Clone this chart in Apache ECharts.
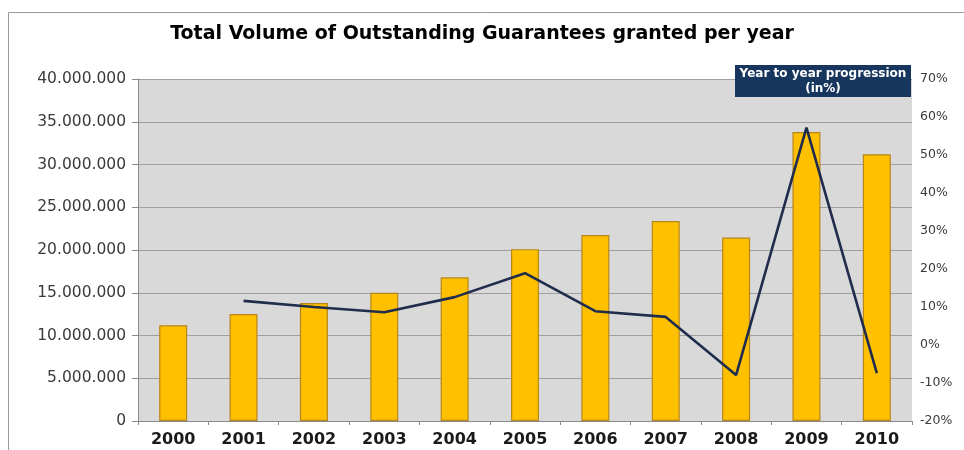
<!DOCTYPE html>
<html>
<head>
<meta charset="utf-8">
<script src="https://cdn.jsdelivr.net/npm/echarts@6/dist/echarts.min.js"></script>
<style>html,body{margin:0;padding:0;background:#fff;}#c{width:964px;height:450px;}</style>
</head>
<body>
<div id="c"></div>
<script>
var titleText = 'Total Volume of Outstanding Guarantees granted per year';
var boxText = 'Year to year progression\n(in%)';
var categories = ['2000','2001','2002','2003','2004','2005','2006','2007','2008','2009','2010'];
var volumes = [11200000, 12500000, 13800000, 15000000, 16800000, 20100000, 21750000, 23400000, 21450000, 33800000, 31200000];
var progression = [null, 11.6, 10.0, 8.6, 12.6, 18.9, 8.9, 7.4, -7.9, 57.2, -7.4];

function fmtDots(v){
  return String(v).replace(/\B(?=(\d{3})+(?!\d))/g, '.');
}

var chart = echarts.init(document.getElementById('c'), null, {renderer:'canvas'});
chart.setOption({
  animation: false,
  backgroundColor: '#fff',
  title: {
    text: titleText,
    left: 'center',
    top: 20,
    textStyle: {fontFamily: 'DejaVu Sans', fontWeight: 'bold', fontSize: 19, color: '#000'}
  },
  graphic: [
    {type:'polyline', shape:{points:[[8.5,460],[8.5,12.5],[964,12.5]]}, style:{stroke:'#9a9a9a', lineWidth:1, fill:null}, silent:true},
    {type:'rect', left:735, top:65, shape:{width:176, height:32}, style:{fill:'#17365d'}, z:10},
    {type:'text', z:11, position:[823,66], style:{text: boxText, fill:'#fff', font:'bold 12px "DejaVu Sans"', textAlign:'center', lineHeight:15}}
  ],
  grid: {left:138, right:52, top:79, bottom:29, show:true, backgroundColor:'#d9d9d9', borderWidth:0},
  xAxis: {
    type:'category', data: categories, boundaryGap:true,
    axisLine:{show:true, lineStyle:{color:'#8a8a8a', width:1}},
    axisTick:{show:true, alignWithLabel:false, length:4, lineStyle:{color:'#8a8a8a'}},
    axisLabel:{fontFamily:'DejaVu Sans', fontWeight:'bold', fontSize:16, color:'#1a1a1a', margin:11}
  },
  yAxis: [
    {type:'value', min:0, max:40000000, interval:5000000, position:'left',
     axisLine:{show:true, lineStyle:{color:'#8a8a8a'}},
     axisTick:{show:true, length:6, lineStyle:{color:'#8a8a8a'}},
     splitLine:{show:true, lineStyle:{color:'#9f9f9f', width:1}},
     axisLabel:{formatter: fmtDots, fontFamily:'DejaVu Sans', fontSize:15.5, color:'#3a3a3a', margin:12}},
    {type:'value', min:-20, max:70, interval:10, position:'right',
     axisLine:{show:false}, axisTick:{show:false}, splitLine:{show:false},
     axisLabel:{formatter: function(v){return v+'%';}, fontFamily:'DejaVu Sans', fontSize:12.5, color:'#3a3a3a', margin:8}}
  ],
  series: [
    {type:'bar', data: volumes, yAxisIndex:0, barWidth:28,
     itemStyle:{color:'#ffc000', borderColor:'#b8861a', borderWidth:1.2}},
    {type:'line', data: progression, yAxisIndex:1, showSymbol:false, symbol:'none',
     lineStyle:{color:'#1f2c4c', width:2.6}, z:5}
  ]
});
</script>
</body>
</html>
